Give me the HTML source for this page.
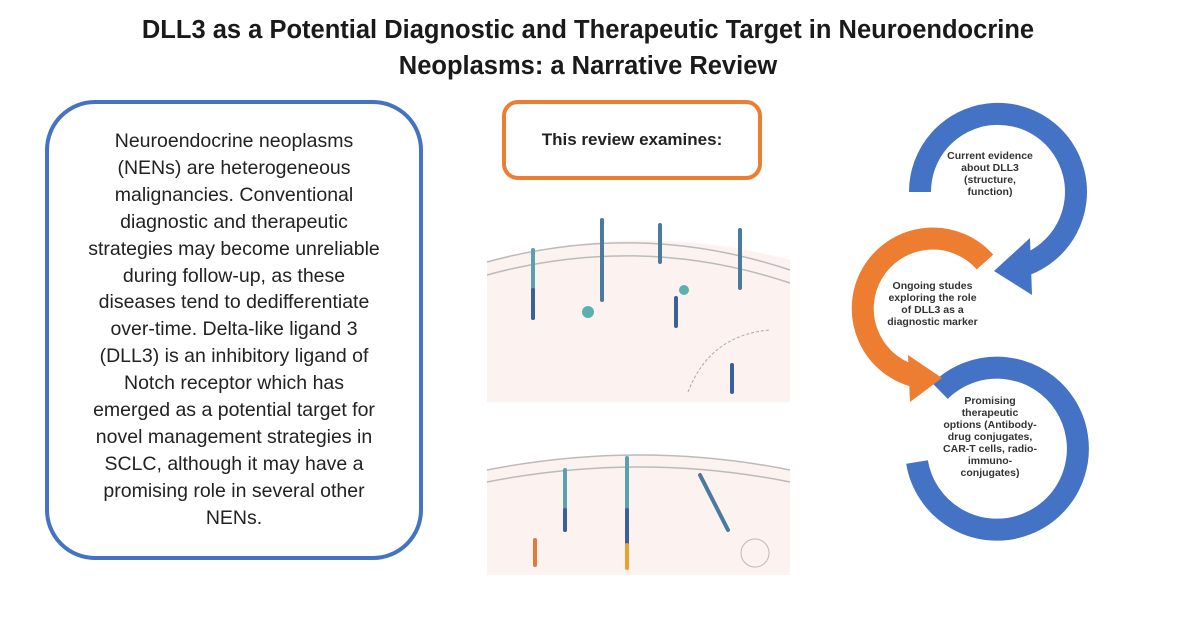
<!DOCTYPE html>
<html><head><meta charset="utf-8"><style>
body{margin:0;width:1200px;height:637px;background:#fff;position:relative;overflow:hidden;font-family:"Liberation Sans",sans-serif;}
.title{position:absolute;left:0;width:1176px;top:12px;text-align:center;font-weight:bold;font-size:25.5px;line-height:36px;color:#1a1a1a;}
.lbox{position:absolute;left:45px;top:100px;width:370px;height:452px;border:4px solid #4472c4;border-radius:50px;}
.ltext{position:absolute;left:40px;top:128px;width:388px;text-align:center;font-size:19.5px;line-height:26.9px;color:#222;}
.obox{position:absolute;left:502px;top:100px;width:252px;height:72px;border:4px solid #ed7d31;border-radius:16px;text-align:center;font-weight:bold;font-size:17px;line-height:72px;color:#222;}
.ct{position:absolute;text-align:center;font-weight:bold;font-size:10.5px;line-height:12px;color:#333;}
</style></head><body>
<div class="title">DLL3 as a Potential Diagnostic and Therapeutic Target in Neuroendocrine<br>Neoplasms: a Narrative Review</div>
<div class="lbox"></div>
<div class="ltext">Neuroendocrine neoplasms<br>(NENs) are heterogeneous<br>malignancies. Conventional<br>diagnostic and therapeutic<br>strategies may become unreliable<br>during follow-up, as these<br>diseases tend to dedifferentiate<br>over-time. Delta-like ligand 3<br>(DLL3) is an inhibitory ligand of<br>Notch receptor which has<br>emerged as a potential target for<br>novel management strategies in<br>SCLC, although it may have a<br>promising role in several other<br>NENs.</div>
<div class="obox">This review examines:</div>

<svg width="1200" height="637" style="position:absolute;left:0;top:0">
 <rect x="487" y="205" width="303" height="197" fill="#fcf2f0"/>
 <path d="M487 205 L790 205 L790 260 Q640 220 487 262 Z" fill="#fff"/>
 <path d="M487 262 Q640 220 790 270" stroke="#bbb" stroke-width="1.5" fill="none"/>
 <path d="M487 275 Q640 233 790 283" stroke="#bbb" stroke-width="1.5" fill="none"/>
 <path d="M688 392 Q710 335 770 330" stroke="#aaa" stroke-width="1" stroke-dasharray="3,2" fill="none"/>
 <g stroke-width="4" stroke-linecap="round">
  <line x1="533" y1="250" x2="533" y2="318" stroke="#5aa0b0"/>
  <line x1="533" y1="290" x2="533" y2="318" stroke="#3a5f9a"/>
  <line x1="602" y1="220" x2="602" y2="300" stroke="#4a7aa0"/>
  <line x1="660" y1="225" x2="660" y2="262" stroke="#4a7aa0"/>
  <line x1="740" y1="230" x2="740" y2="288" stroke="#4a7aa0"/>
  <line x1="676" y1="298" x2="676" y2="326" stroke="#3a5f9a"/>
  <line x1="732" y1="365" x2="732" y2="392" stroke="#3a5f9a"/>
 </g>
 <circle cx="588" cy="312" r="6" fill="#5bb0b0"/>
 <circle cx="684" cy="290" r="5" fill="#5bb0b0"/>
 <rect x="487" y="430" width="303" height="145" fill="#fcf2f0"/>
 <path d="M487 430 L790 430 L790 470 Q640 440 487 470 Z" fill="#fff"/>
 <path d="M487 470 Q640 440 790 470" stroke="#bbb" stroke-width="1.5" fill="none"/>
 <path d="M487 482 Q640 452 790 482" stroke="#bbb" stroke-width="1.5" fill="none"/>
 <g stroke-width="4" stroke-linecap="round">
  <line x1="565" y1="470" x2="565" y2="530" stroke="#5aa0b0"/>
  <line x1="565" y1="510" x2="565" y2="530" stroke="#3a5f9a"/>
  <line x1="535" y1="540" x2="535" y2="565" stroke="#e07a40"/>
  <line x1="627" y1="458" x2="627" y2="510" stroke="#5aa0b0"/>
  <line x1="627" y1="510" x2="627" y2="545" stroke="#3a5f9a"/>
  <line x1="627" y1="545" x2="627" y2="568" stroke="#e8a030"/>
  <line x1="700" y1="475" x2="728" y2="530" stroke="#4a7aa0"/>
 </g>
 <circle cx="755" cy="553" r="14" fill="none" stroke="#bbb"/>

 <g fill="none" stroke-width="22">
  <path d="M920 192 A78 78 0 1 1 1025 265" stroke="#4472c4"/>
  <path d="M985 262 A70 70 0 1 0 918 377" stroke="#ed7d31"/>
  <path d="M940 391 A81 81 0 1 1 917 462" stroke="#4472c4"/>
 </g>
 <polygon points="1030,238 1032,295 994,271" fill="#4472c4"/>
 <polygon points="908,355 910,402 942,378" fill="#ed7d31"/>
</svg>
<div class="ct" style="left:938px;top:150px;width:104px;">Current evidence<br>about DLL3<br>(structure,<br>function)</div>
<div class="ct" style="left:873px;top:280px;width:119px;">Ongoing studes<br>exploring the role<br>of DLL3 as a<br>diagnostic marker</div>
<div class="ct" style="left:933px;top:395px;width:114px;">Promising<br>therapeutic<br>options (Antibody-<br>drug conjugates,<br>CAR-T cells, radio-<br>immuno-<br>conjugates)</div>
</body></html>
